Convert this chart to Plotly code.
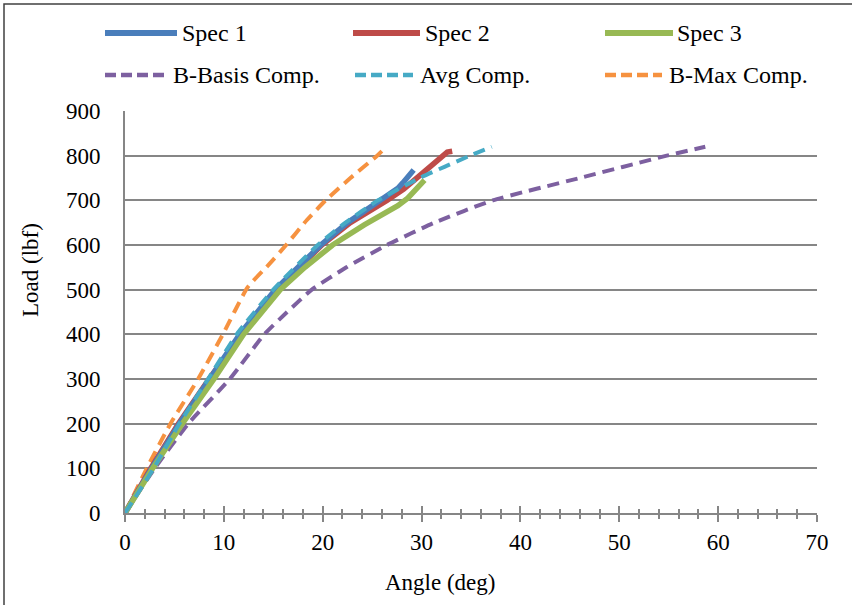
import plotly.graph_objects as go

# ---------------- data ----------------
spec1_angle = [0, 1.3, 2.7, 5.5, 8.5, 11.6, 15.2, 19.8, 22.5, 25.8, 27.2, 27.6, 28.1, 28.6, 29.2]
spec1_load = [0, 50, 100, 200, 300, 400, 500, 600, 650, 700, 718, 727, 739, 752, 768]

spec2_angle = [0, 1.3, 2.6, 5.4, 8.5, 11.8, 15.4, 19.9, 22.8, 26.5, 28.2, 30.1, 31.2, 31.9, 32.6, 33.1]
spec2_load = [0, 50, 100, 200, 300, 400, 500, 600, 650, 700, 725, 761, 783, 797, 808, 810]

spec3_angle = [0, 1.4, 2.8, 5.8, 9.0, 12.0, 15.7, 18.2, 21.0, 24.2, 26.0, 27.6, 28.6, 29.5, 30.3]
spec3_load = [0, 50, 100, 200, 300, 400, 500, 550, 600, 645, 667, 688, 705, 725, 745]

bbasis_angle = [0, 3.0, 6.4, 10.6, 14.1, 16.4, 18.9, 22.4, 26.5, 31.3, 37.2, 46.0, 54.8, 58.7]
bbasis_load = [0, 100, 200, 300, 400, 450, 500, 550, 600, 650, 700, 750, 800, 820]

avg_angle = [0, 2.9, 5.5, 8.4, 11.3, 15.0, 19.5, 22.3, 25.6, 29.8, 34.9, 37.1]
avg_load = [0, 100, 200, 300, 400, 500, 600, 650, 700, 750, 800, 820]

bmax_angle = [0, 2.2, 4.6, 7.4, 9.9, 12.4, 14.5, 16.3, 18.4, 20.3, 22.8, 25.5, 26.2]
bmax_load = [0, 100, 200, 300, 400, 505, 555, 600, 656, 700, 750, 800, 815]

series_names = ["Spec 1", "Spec 2", "Spec 3", "B-Basis Comp.", "Avg Comp.", "B-Max Comp."]
x_ticks = [0, 10, 20, 30, 40, 50, 60, 70]
y_ticks = [0, 100, 200, 300, 400, 500, 600, 700, 800, 900]

# ---------------- style ----------------
FONT = "Liberation Serif"
FS = 23
LFS = 24
GRAY = "#868686"
colors = ["#4A7EBB", "#BE4B48", "#98B954", "#7D60A0", "#46AAC5", "#F69240"]
W, H = 852, 605
L, R, T, B = 125, 817, 111, 513  # plot area pixel box


def px_x(p):
    return (p - L) / (R - L)


def px_y(p):
    return (B - p) / (B - T)


fig = go.Figure()

data = [
    (spec1_angle, spec1_load, "solid", 5.5, "linear"),
    (spec2_angle, spec2_load, "solid", 5.5, "linear"),
    (spec3_angle, spec3_load, "solid", 5.5, "linear"),
    (bbasis_angle, bbasis_load, "12px,7px", 4, "spline"),
    (avg_angle, avg_load, "12px,7px", 4, "spline"),
    (bmax_angle, bmax_load, "12px,7px", 4, "spline"),
]
order = [3, 5, 1, 0, 2, 4]
for i in order:
    xs, ys, dash, w, shape = data[i]
    fig.add_trace(go.Scatter(
        x=xs, y=ys, mode="lines", name=series_names[i], showlegend=False,
        line=dict(color=colors[i], width=w, dash=dash, shape=shape, smoothing=0.5),
    ))

# overlay axis for inward half of crossing ticks
fig.add_trace(go.Scatter(x=[], y=[], xaxis="x2", showlegend=False, hoverinfo="skip"))

fig.update_layout(
    width=W, height=H,
    margin=dict(l=L, r=W - R, t=T, b=H - B),
    paper_bgcolor="white", plot_bgcolor="white",
    font=dict(family=FONT, size=FS, color="black"),
    xaxis=dict(
        range=[0, 70], tickvals=x_ticks, ticktext=[str(v) for v in x_ticks],
        showgrid=False, zeroline=False, showline=True, linecolor=GRAY, linewidth=2,
        ticks="outside", ticklen=7, tickwidth=2, tickcolor=GRAY,
        minor=dict(dtick=2, ticks="outside", ticklen=4, tickwidth=1.5, tickcolor=GRAY, showgrid=False),
        tickfont=dict(family=FONT, size=FS, color="black"),
        ticklabelstandoff=0,
    ),
    xaxis2=dict(
        range=[0, 70], overlaying="x", anchor="y", side="bottom",
        tickvals=x_ticks, showticklabels=False, showgrid=False, zeroline=False,
        showline=False, ticks="inside", ticklen=7, tickwidth=2, tickcolor=GRAY,
        minor=dict(dtick=2, ticks="inside", ticklen=4, tickwidth=1.5, tickcolor=GRAY, showgrid=False),
    ),
    yaxis=dict(
        range=[0, 900], tickvals=y_ticks, ticktext=[str(v) for v in y_ticks],
        showgrid=True, gridcolor=GRAY, gridwidth=1.5, zeroline=False,
        showline=True, linecolor=GRAY, linewidth=2, ticks="",
        tickfont=dict(family=FONT, size=FS, color="black"),
        ticklabelstandoff=18,
    ),
)

# axis titles
fig.add_annotation(x=px_x(440), y=px_y(582), xref="paper", yref="paper",
                   xanchor="center", yanchor="middle",
                   text="Angle (deg)", showarrow=False,
                   font=dict(family=FONT, size=FS, color="black"))
fig.add_annotation(x=px_x(30), y=px_y(270), xref="paper", yref="paper",
                   xanchor="center", yanchor="middle",
                   text="Load (lbf)", showarrow=False, textangle=-90,
                   font=dict(family=FONT, size=FS, color="black"))

# custom legend (lines + text)
legend_pos = [
    (105, 177, 180, 33), (353, 420, 423, 33), (605, 673, 675, 33),
    (105, 165, 171, 75), (355, 413, 418, 75), (605, 662, 667, 75),
]
for i, (x0, x1, tx, yy) in enumerate(legend_pos):
    dash = "solid" if i < 3 else "11px,5px"
    fig.add_shape(type="line", xref="paper", yref="paper",
                  x0=px_x(x0), x1=px_x(x1), y0=px_y(yy), y1=px_y(yy),
                  line=dict(color=colors[i], width=6 if i < 3 else 4.5, dash=dash))
    fig.add_annotation(x=px_x(tx), y=px_y(yy), xref="paper", yref="paper",
                       text=series_names[i], showarrow=False,
                       xanchor="left", yanchor="middle",
                       font=dict(family=FONT, size=LFS, color="black"))

# chart border (left and top visible)
fig.add_shape(type="rect", xref="paper", yref="paper",
              x0=px_x(4), x1=px_x(870), y0=px_y(620), y1=px_y(4),
              line=dict(color="#404040", width=1.5), fillcolor="rgba(0,0,0,0)", layer="below")

fig.write_html("out.html")
